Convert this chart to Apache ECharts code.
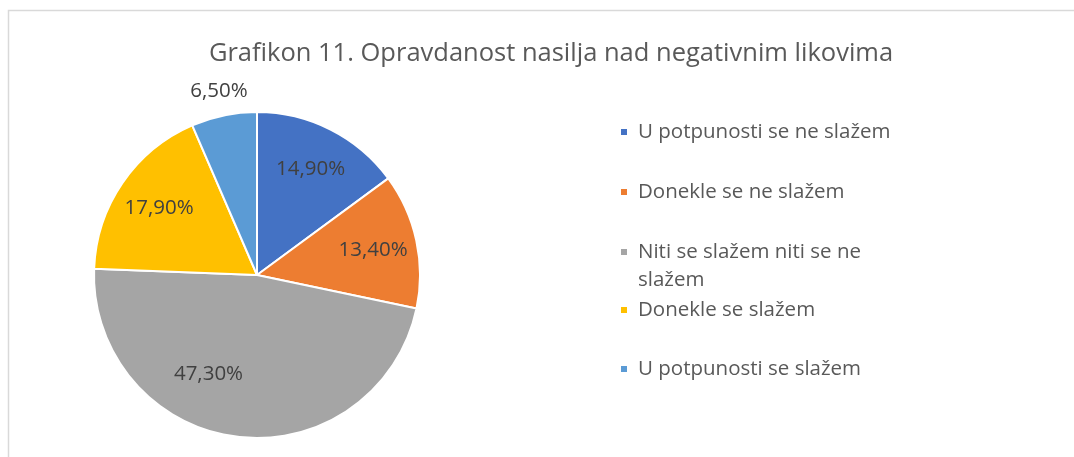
<!DOCTYPE html>
<html>
<head>
<meta charset="utf-8">
<script src="https://cdn.jsdelivr.net/npm/echarts@6/dist/echarts.min.js"></script>
<style>
html,body{margin:0;padding:0;background:#fff;}
#chart{width:1074px;height:457px;}
</style>
</head>
<body>
<div id="chart"></div>
<script>
// ---- data ----
const titleText = 'Grafikon 11. Opravdanost nasilja nad negativnim likovima';
const categories = ['U potpunosti se ne slažem', 'Donekle se ne slažem', 'Niti se slažem niti se ne slažem', 'Donekle se slažem', 'U potpunosti se slažem'];
const values = [14.9, 13.4, 47.3, 17.9, 6.5];

// ---- styles ----
const colors = ['#4472C4', '#ED7D31', '#A5A5A5', '#FFC000', '#5B9BD5'];
const FONT = '"Open Sans", "Noto Sans", sans-serif';
const center = [257, 275];
const R = 163;
const outsideIdx = 4;
const legendIconY = [132, 192, 252, 310, 369];
const labelOffsets = {2: [-34, -19]};

const fmt = v => v.toFixed(2).replace('.', ',') + '%';

const pieData = categories.map((c, i) => ({ name: c, value: values[i], itemStyle: { color: colors[i] } }));

const labelStyle = { color: '#404040', fontFamily: FONT, fontSize: 20.5 };

const innerLabelData = categories.map((c, i) => ({
  name: c, value: values[i],
  label: { show: i !== outsideIdx, offset: labelOffsets[i] || [0, 0] }
}));
const outerLabelData = categories.map((c, i) => ({
  name: c, value: values[i],
  label: { show: i === outsideIdx }
}));

const legends = categories.map((c, i) => {
  const wrapped = i === 2;
  return {
    orient: 'vertical',
    left: 619,
    top: legendIconY[i] - (wrapped ? 42 : 14),
    padding: 0,
    itemWidth: 8,
    itemHeight: 8,
    icon: 'rect',
    selectedMode: false,
    data: [c],
    formatter: wrapped ? (n => '\n' + n) : (n => n),
    textStyle: {
      color: '#595959', fontFamily: FONT, fontSize: 20.5, lineHeight: 28,
      width: 270, overflow: 'break',
      padding: [0, 0, 0, 5]
    }
  };
});

const chart = echarts.init(document.getElementById('chart'), null, { renderer: 'canvas' });
chart.setOption({
  animation: false,
  backgroundColor: '#fff',
  title: {
    text: titleText,
    left: 546, top: 49, textAlign: 'center', textVerticalAlign: 'middle',
    textStyle: { color: '#595959', fontFamily: FONT, fontSize: 25.5, fontWeight: 'normal' }
  },
  graphic: [{
    type: 'rect', silent: true, z: -1,
    shape: { x: 8.5, y: 10.5, width: 1200, height: 600 },
    style: { fill: 'none', stroke: '#d9d9d9', lineWidth: 1.5 }
  }],
  legend: legends,
  series: [
    {
      type: 'pie', center: center, radius: R, startAngle: 90, clockwise: true,
      silent: true, avoidLabelOverlap: false,
      itemStyle: { borderColor: '#fff', borderWidth: 2 },
      label: { show: false }, labelLine: { show: false },
      data: pieData
    },
    {
      type: 'pie', center: center, radius: R * 1.42, startAngle: 90, clockwise: true,
      silent: true, avoidLabelOverlap: false,
      itemStyle: { color: 'rgba(0,0,0,0)', borderWidth: 0 },
      label: Object.assign({ position: 'inside', formatter: p => fmt(p.value) }, labelStyle),
      labelLine: { show: false },
      emphasis: { disabled: true },
      data: innerLabelData
    },
    {
      type: 'pie', center: center, radius: R * 2.27, startAngle: 90, clockwise: true,
      silent: true, avoidLabelOverlap: false,
      itemStyle: { color: 'rgba(0,0,0,0)', borderWidth: 0 },
      label: Object.assign({ position: 'inside', formatter: p => fmt(p.value) }, labelStyle),
      labelLine: { show: false },
      emphasis: { disabled: true },
      data: outerLabelData
    }
  ]
});
</script>
</body>
</html>
